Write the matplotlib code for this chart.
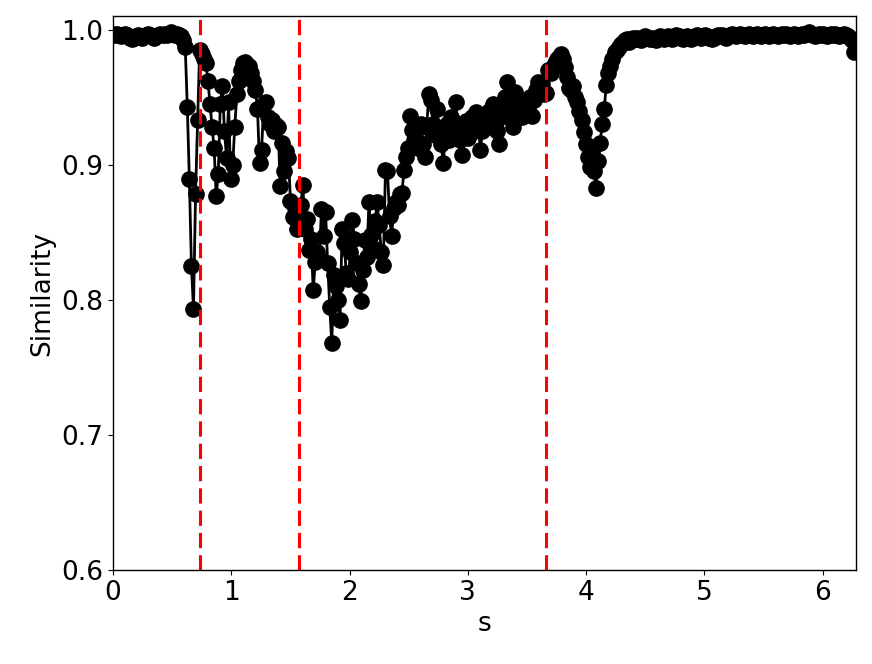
import numpy as np
import matplotlib
matplotlib.use("Agg")
import matplotlib.pyplot as plt

# angle samples, one per degree
angle_deg = np.arange(0, 360)

# similarity, 10 values per row (deg 0-9, 10-19, ...)
similarity = [
    0.997, 0.996, 0.997, 0.996, 0.995, 0.996, 0.997, 0.996, 0.994, 0.993,
    0.994, 0.995, 0.996, 0.995, 0.994, 0.995, 0.996, 0.997, 0.996, 0.995,
    0.994, 0.995, 0.996, 0.997, 0.996, 0.997, 0.996, 0.997, 0.998, 0.997,
    0.996, 0.997, 0.996, 0.995, 0.992, 0.987, 0.943, 0.889, 0.825, 0.793,
    0.878, 0.933, 0.985, 0.982, 0.978, 0.975, 0.962, 0.945, 0.928, 0.912,
    0.877, 0.893, 0.945, 0.958, 0.925, 0.905, 0.946, 0.889, 0.900, 0.928,
    0.952, 0.962, 0.970, 0.975, 0.976, 0.974, 0.973, 0.968, 0.962, 0.955,
    0.941, 0.901, 0.911, 0.945, 0.946, 0.935, 0.930, 0.933, 0.925, 0.929,
    0.928, 0.884, 0.916, 0.895, 0.910, 0.905, 0.873, 0.861, 0.868, 0.852,
    0.858, 0.870, 0.885, 0.852, 0.860, 0.837, 0.845, 0.807, 0.828, 0.835,
    0.830, 0.867, 0.847, 0.865, 0.827, 0.795, 0.768, 0.818, 0.810, 0.800,
    0.785, 0.852, 0.842, 0.820, 0.815, 0.835, 0.859, 0.845, 0.827, 0.812,
    0.799, 0.822, 0.844, 0.832, 0.872, 0.848, 0.838, 0.858, 0.872, 0.855,
    0.835, 0.826, 0.896, 0.895, 0.862, 0.847, 0.868, 0.872, 0.870, 0.878,
    0.879, 0.896, 0.906, 0.912, 0.936, 0.926, 0.918, 0.925, 0.912, 0.930,
    0.915, 0.906, 0.928, 0.952, 0.948, 0.930, 0.922, 0.941, 0.925, 0.915,
    0.901, 0.920, 0.930, 0.918, 0.935, 0.925, 0.946, 0.930, 0.918, 0.907,
    0.922, 0.932, 0.920, 0.928, 0.935, 0.925, 0.939, 0.930, 0.911, 0.925,
    0.935, 0.928, 0.940, 0.932, 0.945, 0.930, 0.925, 0.915, 0.935, 0.942,
    0.950, 0.961, 0.945, 0.938, 0.928, 0.954, 0.948, 0.940, 0.935, 0.945,
    0.938, 0.942, 0.950, 0.936, 0.948, 0.955, 0.961, 0.958, 0.960, 0.952,
    0.953, 0.970, 0.968, 0.972, 0.975, 0.978, 0.980, 0.982, 0.978, 0.972,
    0.965, 0.957, 0.955, 0.958, 0.950, 0.946, 0.940, 0.933, 0.924, 0.915,
    0.906, 0.898, 0.910, 0.895, 0.883, 0.903, 0.916, 0.930, 0.941, 0.959,
    0.968, 0.973, 0.978, 0.983, 0.985, 0.987, 0.989, 0.990, 0.992, 0.993,
    0.991, 0.993, 0.994, 0.993, 0.994, 0.993, 0.992, 0.994, 0.995, 0.994,
    0.993, 0.994, 0.993, 0.992, 0.994, 0.995, 0.994, 0.993, 0.994, 0.995,
    0.994, 0.993, 0.994, 0.996, 0.995, 0.994, 0.993, 0.994, 0.995, 0.994,
    0.993, 0.994, 0.995, 0.996, 0.995, 0.994, 0.995, 0.996, 0.995, 0.994,
    0.993, 0.994, 0.995, 0.996, 0.995, 0.996, 0.995, 0.994, 0.995, 0.996,
    0.997, 0.996, 0.995, 0.996, 0.997, 0.996, 0.995, 0.996, 0.997, 0.996,
    0.995, 0.996, 0.997, 0.996, 0.995, 0.996, 0.997, 0.996, 0.995, 0.996,
    0.997, 0.996, 0.995, 0.996, 0.997, 0.996, 0.997, 0.996, 0.995, 0.996,
    0.997, 0.996, 0.995, 0.996, 0.997, 0.996, 0.997, 0.998, 0.997, 0.996,
    0.995, 0.996, 0.997, 0.996, 0.997, 0.996, 0.995, 0.996, 0.997, 0.996,
    0.997, 0.996, 0.995, 0.996, 0.997, 0.996, 0.995, 0.994, 0.992, 0.983,
]

# boundaries marked with red dashed lines (degrees)
boundary_deg = [42, 90, 210]

s = np.deg2rad(angle_deg)

plt.rcParams['font.size'] = 19

fig = plt.figure(figsize=(8.72, 6.64), dpi=100)
ax = fig.add_axes([113 / 872, 94 / 664, 743 / 872, 554 / 664])

ax.plot(s, similarity, color='black', marker='o', markersize=11, linewidth=2)

for b in boundary_deg:
    ax.axvline(np.deg2rad(b), color='red', linewidth=2.2, linestyle=(0, (5, 2.3)))

ax.set_xlim(0, 2 * np.pi)
ax.set_ylim(0.6, 1.01)
ax.set_yticks([0.6, 0.7, 0.8, 0.9, 1.0])
ax.set_xticks([0, 1, 2, 3, 4, 5, 6])
ax.set_xlabel('s')
ax.set_ylabel('Similarity')
for sp in ax.spines.values():
    sp.set_linewidth(1.0)

fig.savefig('out.png', dpi=100)
